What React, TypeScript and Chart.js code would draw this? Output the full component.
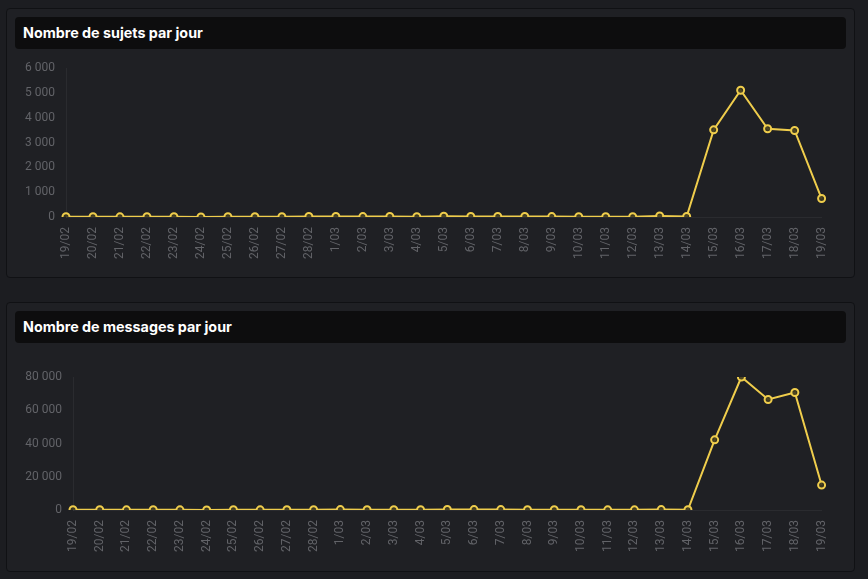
import React, { useEffect, useRef } from "react";
import { Chart, registerables } from "chart.js";

Chart.register(...registerables);

const days: string[] = [
  "19/02", "20/02", "21/02", "22/02", "23/02", "24/02", "25/02", "26/02", "27/02", "28/02",
  "1/03", "2/03", "3/03", "4/03", "5/03", "6/03", "7/03", "8/03", "9/03", "10/03",
  "11/03", "12/03", "13/03", "14/03", "15/03", "16/03", "17/03", "18/03", "19/03",
];

const sujets: number[] = [
  12, 10, 6, 14, 8, 5, 10, 12, 14, 20,
  22, 16, 18, 10, 30, 22, 20, 18, 16, 14,
  10, 8, 40, 20, 3515, 5110, 3560, 3490, 745,
];

const messages: number[] = [
  150, 120, 80, 160, 100, 60, 220, 90, 130, 200,
  250, 210, 180, 120, 300, 260, 230, 190, 170, 160,
  110, 90, 240, 150, 42200, 80000, 66500, 70700, 15000,
];

const sujetsTicks = { max: 6000, step: 1000 };
const messagesTicks = { max: 80000, step: 20000 };

const YELLOW = "#efcd4c";

function fmt(v: number): string {
  const s = String(Math.round(v));
  return s.replace(/\B(?=(\d{3})+(?!\d))/g, "\u00a0");
}

type Props = {
  title: string;
  top: number;
  values: number[];
  max: number;
  step: number;
  yWidth: number;
  padTop: number;
  xHeight: number;
  canvasTop: number;
};

function Panel({ title, top, values, max, step, yWidth, padTop, xHeight, canvasTop }: Props) {
  const ref = useRef<HTMLCanvasElement | null>(null);
  useEffect(() => {
    if (!ref.current) return;
    const chart = new Chart(ref.current, {
      type: "line",
      data: {
        labels: days,
        datasets: [
          {
            data: values,
            borderColor: YELLOW,
            borderWidth: 2,
            pointRadius: 3.5,
            pointBorderWidth: 2,
            pointBorderColor: YELLOW,
            pointBackgroundColor: "rgba(60,55,30,0.9)",
            tension: 0,
            fill: false,
          },
        ],
      },
      options: {
        animation: false,
        responsive: true,
        maintainAspectRatio: false,
        layout: { padding: { top: padTop, right: 24, bottom: 0, left: 0 } },
        plugins: { legend: { display: false }, tooltip: { enabled: false } },
        scales: {
          x: {
            grid: { display: false, drawTicks: false },
            border: { display: true, color: "rgba(255,255,255,0.05)" },
            ticks: {
              color: "#626368",
              font: { family: "Roboto", size: 12 },
              minRotation: 90,
              maxRotation: 90,
              autoSkip: false,
              padding: 10,
            },
            afterFit: (s: any) => {
              s.height = xHeight;
            },
          },
          y: {
            min: 0,
            max: max,
            grid: { display: false, drawTicks: false },
            border: { display: true, color: "rgba(255,255,255,0.05)" },
            ticks: {
              stepSize: step,
              color: "#626368",
              font: { family: "Roboto", size: 12 },
              padding: 11,
              callback: (v: any) => fmt(Number(v)),
            },
            afterFit: (s: any) => {
              s.width = yWidth;
            },
          },
        },
      },
    });
    return () => chart.destroy();
  }, []);

  return (
    <div
      style={{
        position: "absolute",
        left: 6,
        top: top,
        width: 847,
        height: 268,
        border: "1px solid #101114",
        borderRadius: 4,
        background: "#1f2024",
      }}
    >
      <div
        style={{
          position: "absolute",
          left: 8,
          top: 8,
          width: 831,
          height: 32,
          background: "#0d0d0e",
          borderRadius: 4,
          color: "#ffffff",
          fontFamily: "Inter, 'Noto Sans', sans-serif",
          fontWeight: 700,
          fontSize: 14.3,
          lineHeight: "32px",
          paddingLeft: 8,
          boxSizing: "border-box",
        }}
      >
        {title}
      </div>
      <div
        style={{
          position: "absolute",
          left: 8,
          top: canvasTop,
          width: 831,
          height: 261 - canvasTop,
        }}
      >
        <canvas ref={ref} />
      </div>
    </div>
  );
}

export default function App() {
  useEffect(() => {
    document.body.style.margin = "0";
    document.body.style.background = "#1c1d21";
  }, []);
  return (
    <div style={{ position: "relative", width: 868, height: 579, background: "#1c1d21", overflow: "hidden" }}>
      <Panel
        title="Nombre de sujets par jour"
        top={8}
        values={sujets}
        max={sujetsTicks.max}
        step={sujetsTicks.step}
        yWidth={51}
        padTop={3}
        xHeight={53}
        canvasTop={41}
      />
      <Panel
        title="Nombre de messages par jour"
        top={302}
        values={messages}
        max={messagesTicks.max}
        step={messagesTicks.step}
        yWidth={58}
        padTop={28}
        xHeight={54}
        canvasTop={46}
      />
    </div>
  );
}
